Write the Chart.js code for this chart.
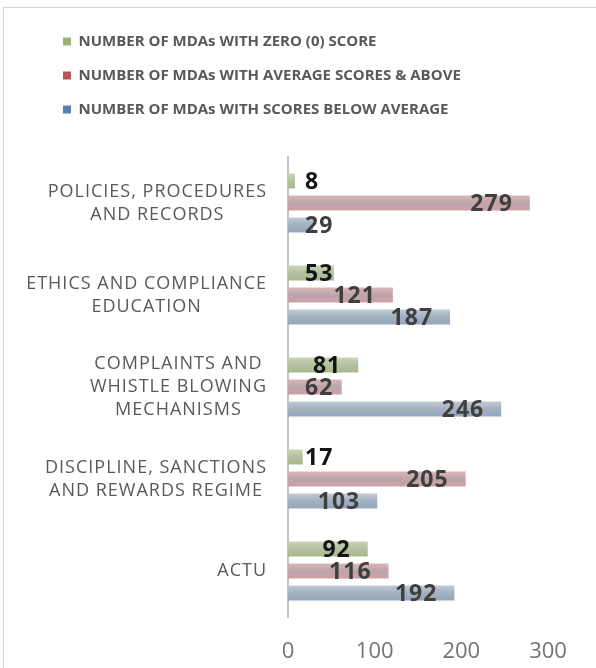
<!DOCTYPE html>
<html>
<head>
<meta charset="utf-8">
<script src="https://cdn.jsdelivr.net/npm/chart.js@4.4.1/dist/chart.umd.min.js"></script>
<style>
  html, body { margin: 0; padding: 0; background: #fff; }
  #wrap { position: relative; width: 596px; height: 668px; overflow: hidden; }
  #frame { position: absolute; left: 3px; top: 7px; right: -4px; bottom: -4px; border: 1px solid #d2d2d2; pointer-events: none; }
  canvas { display: block; }
</style>
</head>
<body>
<div id="wrap">
  <canvas id="myChart" width="596" height="668"></canvas>
  <div id="frame"></div>
</div>
<script>
const categories = [
  ['POLICIES, PROCEDURES', 'AND RECORDS'],
  ['ETHICS AND COMPLIANCE', 'EDUCATION'],
  ['COMPLAINTS AND', 'WHISTLE BLOWING', 'MECHANISMS'],
  ['DISCIPLINE, SANCTIONS', 'AND REWARDS REGIME'],
  ['ACTU'],
];
const zeroScore = [8, 53, 81, 17, 92];
const aboveAverage = [279, 121, 62, 205, 116];
const belowAverage = [29, 187, 246, 103, 192];
const xTicks = [0, 100, 200, 300];

// top / middle / bottom shade of each bar, gives the rounded look
const barShades = [
  ['#cbd5b6', '#b5bfa1', '#a8b98b'],
  ['#dcb5b8', '#bba5ab', '#cfa0a4'],
  ['#c0cbd9', '#a4b0bf', '#93a7bf'],
];

const ctx = document.getElementById('myChart').getContext('2d');

const shading = {
  id: 'shading',
  beforeDatasetsDraw(chart) {
    chart.data.datasets.forEach((ds, i) => {
      chart.getDatasetMeta(i).data.forEach(bar => {
        const {y, height} = bar.getProps(['y', 'height'], true);
        const g = ctx.createLinearGradient(0, y - height / 2, 0, y + height / 2);
        g.addColorStop(0, barShades[i][0]);
        g.addColorStop(0.5, barShades[i][1]);
        g.addColorStop(1, barShades[i][2]);
        bar.options = Object.assign({}, bar.options, {backgroundColor: g});
      });
    });
  }
};

// value text sits inside the bar end, pushed right of the axis for short bars
const valueLabels = {
  id: 'valueLabels',
  afterDatasetsDraw(chart) {
    ctx.save();
    ctx.font = 'bold 23px "Open Sans"';
    ctx.letterSpacing = '1px';
    ctx.textBaseline = 'middle';
    ctx.textAlign = 'left';
    chart.data.datasets.forEach((ds, i) => {
      ctx.fillStyle = i === 0 ? '#141414' : '#3f3f3f';
      chart.getDatasetMeta(i).data.forEach((bar, j) => {
        const {x, y, base} = bar.getProps(['x', 'y', 'base'], true);
        const text = String(ds.data[j]);
        const w = ctx.measureText(text).width;
        const left = Math.max(x - 17 - w, base + 17);
        ctx.fillText(text, left, y + 1);
      });
    });
    ctx.restore();
  }
};

// category names: block right-aligned to the axis, lines centred inside it
const categoryLabels = {
  id: 'categoryLabels',
  afterDraw(chart) {
    const scale = chart.scales.y;
    const lineH = 23;
    ctx.save();
    ctx.font = '18px "Open Sans"';
    ctx.letterSpacing = '1px';
    ctx.fillStyle = '#595959';
    ctx.textAlign = 'center';
    ctx.textBaseline = 'middle';
    categories.forEach((lines, i) => {
      const y = scale.getPixelForTick(i);
      const widest = Math.max(...lines.map(l => ctx.measureText(l).width));
      const cx = scale.right - 21 - widest / 2;
      lines.forEach((l, k) => {
        ctx.fillText(l, cx, y + (k - (lines.length - 1) / 2) * lineH);
      });
    });
    ctx.restore();
  }
};

// extra room between the legend and the plot
const legendGap = {
  id: 'legendGap',
  afterInit(chart) {
    const fit = chart.legend.fit;
    chart.legend.fit = function () {
      fit.call(this);
      this.height += 30;
    };
  }
};

const data = {
  labels: categories,
  datasets: [
    {
      label: 'NUMBER OF MDAs WITH ZERO (0) SCORE',
      data: zeroScore,
      backgroundColor: '#9fb173',
    },
    {
      label: 'NUMBER OF MDAs WITH AVERAGE SCORES & ABOVE',
      data: aboveAverage,
      backgroundColor: '#b8585a',
    },
    {
      label: 'NUMBER OF MDAs WITH SCORES BELOW AVERAGE',
      data: belowAverage,
      backgroundColor: '#5d7fb0',
    },
  ],
};

const config = {
  type: 'bar',
  data: data,
  plugins: [legendGap, shading, valueLabels, categoryLabels],
  options: {
    indexAxis: 'y',
    responsive: false,
    animation: false,
    categoryPercentage: 0.717,
    barPercentage: 0.68,
    layout: {
      padding: {left: 44, top: 15, right: 48, bottom: 7},
    },
    plugins: {
      tooltip: {enabled: false},
      legend: {
        position: 'top',
        align: 'start',
        labels: {
          boxWidth: 8,
          boxHeight: 8,
          padding: 19,
          color: '#595959',
          font: {family: 'Open Sans', size: 15, weight: 'bold'},
        },
      },
    },
    scales: {
      x: {
        min: 0,
        max: 300,
        afterBuildTicks(scale) {
          scale.ticks = xTicks.map(v => ({value: v}));
        },
        afterFit(scale) {
          scale.height = 44;
        },
        grid: {display: false, drawTicks: false},
        border: {display: false},
        ticks: {
          padding: 22,
          color: '#747474',
          font: {family: 'Open Sans', size: 22},
        },
      },
      y: {
        afterFit(scale) {
          scale.width = 244;
        },
        grid: {display: false},
        border: {color: '#c4c4c4', width: 2},
        ticks: {display: false},
      },
    },
  },
};

const myChart = new Chart(ctx, config);
</script>
</body>
</html>
